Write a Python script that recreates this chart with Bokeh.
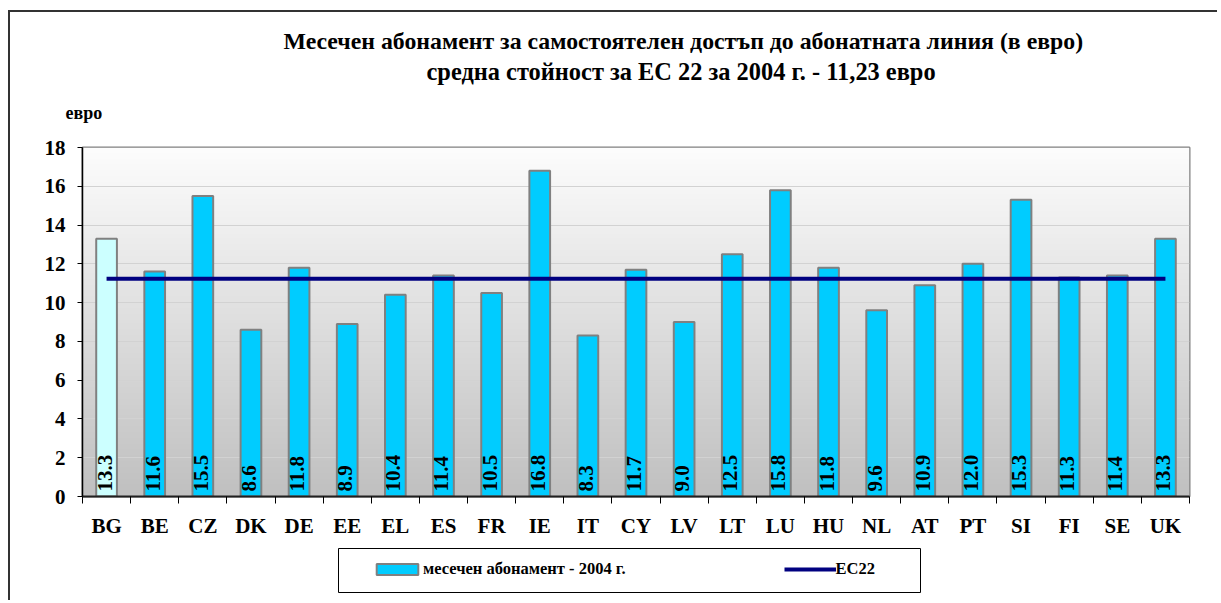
import numpy as np
from math import pi
from bokeh.plotting import figure
from bokeh.layouts import column
from bokeh.models import (ColumnDataSource, FixedTicker, Legend, LegendItem, Title, Range1d,
                          BoxAnnotation)
from bokeh.core.properties import value
from bokeh.embed import file_html
from bokeh.resources import INLINE

categories = ["BG", "BE", "CZ", "DK", "DE", "EE", "EL", "ES", "FR", "IE", "IT", "CY",
              "LV", "LT", "LU", "HU", "NL", "AT", "PT", "SI", "FI", "SE", "UK"]
subscription_2004 = [13.3, 11.6, 15.5, 8.6, 11.8, 8.9, 10.4, 11.4, 10.5, 16.8, 8.3, 11.7,
                     9.0, 12.5, 15.8, 11.8, 9.6, 10.9, 12.0, 15.3, 11.3, 11.4, 13.3]
ec22_average = 11.23
y_ticks = [0, 2, 4, 6, 8, 10, 12, 14, 16, 18]

title_line1 = "Месечен абонамент за самостоятелен достъп до абонатната линия (в евро)"
title_line2 = "средна стойност за ЕС 22 за 2004 г. - 11,23 евро"
y_unit = "евро"
bar_label = "месечен абонамент - 2004 г."
line_label = "ЕС22"

FONT = "Liberation Serif"
BAR_COLOR = "#00CCFF"
FIRST_BAR_COLOR = "#CCFFFF"
BAR_LINE = "#808080"
LINE_COLOR = "#000080"
n = len(categories)
xs = list(range(1, n + 1))

p = figure(width=1209, height=532, output_backend="svg", toolbar_location=None,
           x_range=Range1d(0.5, n + 0.5), y_range=Range1d(0, 18),
           min_border_left=72, min_border_right=30, min_border_top=135,
           min_border_bottom=48,
           styles={"margin-left": "8px", "margin-top": "10px",
                   "border-left": "2px solid #333333", "border-top": "2px solid #333333"})
p.border_fill_color = "white"
p.outline_line_color = "#808080"
p.outline_line_width = 2

# gradient background of the plot area
rows = 180
shade = np.linspace(192, 253, rows).astype(np.uint32)
img = np.empty((rows, 1), dtype=np.uint32)
view = img.view(dtype=np.uint8).reshape((rows, 1, 4))
view[:, :, 0] = shade[:, None]
view[:, :, 1] = shade[:, None]
view[:, :, 2] = shade[:, None]
view[:, :, 3] = 255
bg = p.image_rgba(image=[img], x=0.5, y=0, dw=n, dh=18)
bg.level = "image"

# grid
p.xgrid.grid_line_color = None
p.ygrid.grid_line_color = "#D2D2D2"
p.ygrid.grid_line_width = 1
p.ygrid.ticker = FixedTicker(ticks=y_ticks)

# bars
src = ColumnDataSource(dict(x=xs, top=subscription_2004,
                            color=[FIRST_BAR_COLOR] + [BAR_COLOR] * (n - 1),
                            lbl=[f"{v:.1f}" for v in subscription_2004]))
p.vbar(x="x", top="top", width=0.43, source=src, fill_color="color",
       line_color=BAR_LINE, line_width=2)

p.line(x=[xs[0], xs[-1]], y=[ec22_average, ec22_average],
       line_color=LINE_COLOR, line_width=4)

p.text(x="x", y=0, text="lbl", source=src, angle=pi / 2, text_align="left",
       text_baseline="middle", text_font=value(FONT), text_font_style="bold",
       text_font_size="21px", text_color="black", y_offset=-5, x_offset=-2)

# axes
p.yaxis.ticker = FixedTicker(ticks=y_ticks)
p.yaxis.axis_line_color = "black"
p.yaxis.axis_line_width = 1.5
p.yaxis.major_tick_out = 5
p.yaxis.major_tick_in = 0
p.yaxis.minor_tick_line_color = None
p.yaxis.major_label_standoff = 12
p.yaxis.major_label_text_font = FONT
p.yaxis.major_label_text_font_style = "bold"
p.yaxis.major_label_text_font_size = "21px"
p.yaxis.major_label_text_color = "black"

p.xaxis.ticker = FixedTicker(ticks=xs, minor_ticks=[x - 0.5 for x in xs] + [xs[-1] + 0.5])
p.xaxis.major_label_overrides = {x: c for x, c in zip(xs, categories)}
p.xaxis.axis_line_color = "#202020"
p.xaxis.axis_line_width = 2
p.xaxis.major_tick_out = 0
p.xaxis.major_tick_in = 0
p.xaxis.major_tick_line_color = None
p.xaxis.minor_tick_out = 7
p.xaxis.minor_tick_in = 0
p.xaxis.minor_tick_line_color = "black"
p.xaxis.major_label_standoff = 10
p.xaxis.major_label_text_font = FONT
p.xaxis.major_label_text_font_style = "bold"
p.xaxis.major_label_text_font_size = "21px"
p.xaxis.major_label_text_color = "black"

# unit label and two-line title (first added is closest to the plot area)
p.add_layout(Title(text=y_unit, align="left", offset=-17, standoff=47,
                   vertical_align="middle",
                   text_font=FONT, text_font_style="bold", text_font_size="18px",
                   text_color="black"), "above")
p.add_layout(Title(text=title_line2, align="left", offset=344, standoff=-14,
                   vertical_align="middle",
                   text_font=FONT, text_font_style="bold", text_font_size="24.4px",
                   text_color="black"), "above")
p.add_layout(Title(text=title_line1, align="left", offset=201, standoff=18,
                   vertical_align="middle",
                   text_font=FONT, text_font_style="bold", text_font_size="23.8px",
                   text_color="black"), "above")

# legend strip below the chart; its frame is aligned with the chart's frame,
# so its ranges are expressed in page pixels
LH = 58
q = figure(width=1209, height=LH, output_backend="svg", toolbar_location=None,
           x_range=Range1d(82, 1189), y_range=Range1d(0, LH), x_axis_type=None,
           y_axis_type=None, min_border=0, outline_line_color=None,
           styles={"margin-left": "8px", "border-left": "2px solid #333333"})
q.grid.visible = False
# hidden legend proxies carrying the same styles
leg_bar = q.vbar(x=xs, top=subscription_2004, width=0.43, fill_color=BAR_COLOR,
                 line_color=BAR_LINE, line_width=2, visible=False)
leg_line = q.line(x=[xs[0], xs[-1]], y=[ec22_average, ec22_average],
                  line_color=LINE_COLOR, line_width=4, visible=False)
q.add_layout(BoxAnnotation(left=338, right=920, bottom=8, top=52, fill_alpha=0,
                           line_color="black", line_width=1, line_alpha=1))
legend = Legend(items=[LegendItem(label=bar_label, renderers=[leg_bar], index=1),
                       LegendItem(label=line_label, renderers=[leg_line])],
                orientation="horizontal", location=(289, 21), padding=0, margin=0,
                spacing=158, glyph_width=52, glyph_height=14, label_standoff=0,
                label_height=20, border_line_color=None, background_fill_alpha=0,
                inactive_fill_alpha=0,
                label_text_font=FONT, label_text_font_style="bold",
                label_text_font_size="16.5px", label_text_color="black")
q.add_layout(legend)

layout = column(p, q, spacing=0)
open("out.html", "w").write(file_html(layout, INLINE))
